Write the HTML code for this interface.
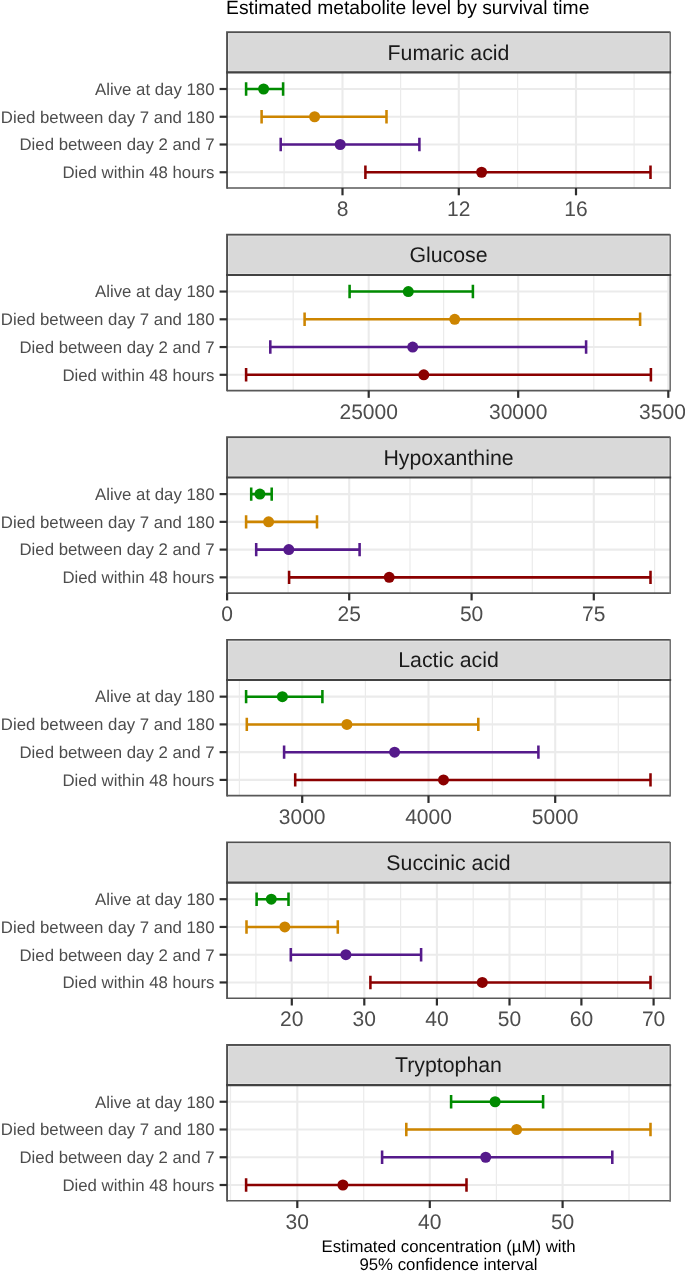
<!DOCTYPE html>
<html><head><meta charset="utf-8"><style>
html,body{margin:0;padding:0;background:#fff;}
body{width:685px;height:1272px;overflow:hidden;}
svg{display:block;will-change:transform;text-rendering:geometricPrecision;font-family:"Liberation Sans",sans-serif;}
</style></head><body>
<svg width="685" height="1272" viewBox="0 0 685 1272">
<rect width="685" height="1272" fill="#fff"/>
<text x="226.1" y="14.2" font-size="19.3" fill="#000">Estimated metabolite level by survival time</text>
<line x1="284.1" y1="72.4" x2="284.1" y2="188" stroke="#EBEBEB" stroke-width="1.2"/>
<line x1="400.6" y1="72.4" x2="400.6" y2="188" stroke="#EBEBEB" stroke-width="1.2"/>
<line x1="517.6" y1="72.4" x2="517.6" y2="188" stroke="#EBEBEB" stroke-width="1.2"/>
<line x1="634.1" y1="72.4" x2="634.1" y2="188" stroke="#EBEBEB" stroke-width="1.2"/>
<line x1="342.5" y1="72.4" x2="342.5" y2="188" stroke="#EBEBEB" stroke-width="2.1"/>
<line x1="458.8" y1="72.4" x2="458.8" y2="188" stroke="#EBEBEB" stroke-width="2.1"/>
<line x1="576" y1="72.4" x2="576" y2="188" stroke="#EBEBEB" stroke-width="2.1"/>
<line x1="227.05" y1="89" x2="670.2" y2="89" stroke="#EBEBEB" stroke-width="2.1"/>
<line x1="227.05" y1="116.75" x2="670.2" y2="116.75" stroke="#EBEBEB" stroke-width="2.1"/>
<line x1="227.05" y1="144.5" x2="670.2" y2="144.5" stroke="#EBEBEB" stroke-width="2.1"/>
<line x1="227.05" y1="172.25" x2="670.2" y2="172.25" stroke="#EBEBEB" stroke-width="2.1"/>
<path d="M246.1 89H283.1M246.1 82.3V95.7M283.1 82.3V95.7" stroke="#008B00" stroke-width="2.55" fill="none"/>
<circle cx="263.6" cy="89" r="5.5" fill="#008B00"/>
<path d="M261.6 116.75H386.5M261.6 110.05V123.45M386.5 110.05V123.45" stroke="#CD8500" stroke-width="2.55" fill="none"/>
<circle cx="314.6" cy="116.75" r="5.5" fill="#CD8500"/>
<path d="M280.7 144.5H419.4M280.7 137.8V151.2M419.4 137.8V151.2" stroke="#551A8B" stroke-width="2.55" fill="none"/>
<circle cx="340.2" cy="144.5" r="5.5" fill="#551A8B"/>
<path d="M365.4 172.25H650.5M365.4 165.55V178.95M650.5 165.55V178.95" stroke="#8B0000" stroke-width="2.55" fill="none"/>
<circle cx="481.6" cy="172.25" r="5.5" fill="#8B0000"/>
<rect x="227.05" y="32.2" width="443.15" height="40.2" fill="#D9D9D9"/>
<path d="M227.05 72.4V32.2H670.2" stroke="#505050" stroke-width="1.9" fill="none"/>
<path d="M670.2 31.7V72.4" stroke="#727272" stroke-width="1.6" fill="none"/>
<rect x="228.55" y="33.7" width="440.15" height="37.2" fill="none" stroke="#E2E2E2" stroke-width="1"/>
<text x="448.5" y="59.5" text-anchor="middle" font-size="21.3" fill="#1A1A1A">Fumaric acid</text>
<path d="M227.05 72.4V188.8" stroke="#555555" stroke-width="1.9" fill="none"/>
<path d="M227.05 188H670.2" stroke="#585858" stroke-width="1.65" fill="none"/>
<path d="M670.2 72.4V188.95" stroke="#727272" stroke-width="1.6" fill="none"/>
<line x1="226.1" y1="72.4" x2="671.15" y2="72.4" stroke="#424242" stroke-width="2.1"/>
<line x1="219.6" y1="89" x2="227.05" y2="89" stroke="#2E2E2E" stroke-width="2.2"/>
<text x="214.5" y="94.8" text-anchor="end" font-size="16.8" fill="#4D4D4D">Alive at day 180</text>
<line x1="219.6" y1="116.75" x2="227.05" y2="116.75" stroke="#2E2E2E" stroke-width="2.2"/>
<text x="214.5" y="122.55" text-anchor="end" font-size="16.8" fill="#4D4D4D">Died between day 7 and 180</text>
<line x1="219.6" y1="144.5" x2="227.05" y2="144.5" stroke="#2E2E2E" stroke-width="2.2"/>
<text x="214.5" y="150.3" text-anchor="end" font-size="16.8" fill="#4D4D4D">Died between day 2 and 7</text>
<line x1="219.6" y1="172.25" x2="227.05" y2="172.25" stroke="#2E2E2E" stroke-width="2.2"/>
<text x="214.5" y="178.05" text-anchor="end" font-size="16.8" fill="#4D4D4D">Died within 48 hours</text>
<line x1="342.5" y1="188" x2="342.5" y2="195.3" stroke="#2E2E2E" stroke-width="2.2"/>
<text x="342.5" y="216" text-anchor="middle" font-size="21.0" fill="#4D4D4D">8</text>
<line x1="458.8" y1="188" x2="458.8" y2="195.3" stroke="#2E2E2E" stroke-width="2.2"/>
<text x="458.8" y="216" text-anchor="middle" font-size="21.0" fill="#4D4D4D">12</text>
<line x1="576" y1="188" x2="576" y2="195.3" stroke="#2E2E2E" stroke-width="2.2"/>
<text x="576" y="216" text-anchor="middle" font-size="21.0" fill="#4D4D4D">16</text>
<line x1="293.2" y1="274.95" x2="293.2" y2="390.55" stroke="#EBEBEB" stroke-width="1.2"/>
<line x1="443.6" y1="274.95" x2="443.6" y2="390.55" stroke="#EBEBEB" stroke-width="1.2"/>
<line x1="593.8" y1="274.95" x2="593.8" y2="390.55" stroke="#EBEBEB" stroke-width="1.2"/>
<line x1="368.7" y1="274.95" x2="368.7" y2="390.55" stroke="#EBEBEB" stroke-width="2.1"/>
<line x1="518.2" y1="274.95" x2="518.2" y2="390.55" stroke="#EBEBEB" stroke-width="2.1"/>
<line x1="668.3" y1="274.95" x2="668.3" y2="390.55" stroke="#EBEBEB" stroke-width="2.1"/>
<line x1="227.05" y1="291.55" x2="670.2" y2="291.55" stroke="#EBEBEB" stroke-width="2.1"/>
<line x1="227.05" y1="319.3" x2="670.2" y2="319.3" stroke="#EBEBEB" stroke-width="2.1"/>
<line x1="227.05" y1="347.05" x2="670.2" y2="347.05" stroke="#EBEBEB" stroke-width="2.1"/>
<line x1="227.05" y1="374.8" x2="670.2" y2="374.8" stroke="#EBEBEB" stroke-width="2.1"/>
<path d="M349.6 291.55H472.9M349.6 284.85V298.25M472.9 284.85V298.25" stroke="#008B00" stroke-width="2.55" fill="none"/>
<circle cx="408.3" cy="291.55" r="5.5" fill="#008B00"/>
<path d="M304.6 319.3H640.1M304.6 312.6V326M640.1 312.6V326" stroke="#CD8500" stroke-width="2.55" fill="none"/>
<circle cx="454.7" cy="319.3" r="5.5" fill="#CD8500"/>
<path d="M270.3 347.05H586.1M270.3 340.35V353.75M586.1 340.35V353.75" stroke="#551A8B" stroke-width="2.55" fill="none"/>
<circle cx="412.7" cy="347.05" r="5.5" fill="#551A8B"/>
<path d="M246.1 374.8H650.9M246.1 368.1V381.5M650.9 368.1V381.5" stroke="#8B0000" stroke-width="2.55" fill="none"/>
<circle cx="423.8" cy="374.8" r="5.5" fill="#8B0000"/>
<rect x="227.05" y="234.75" width="443.15" height="40.2" fill="#D9D9D9"/>
<path d="M227.05 274.95V234.75H670.2" stroke="#505050" stroke-width="1.9" fill="none"/>
<path d="M670.2 234.25V274.95" stroke="#727272" stroke-width="1.6" fill="none"/>
<rect x="228.55" y="236.25" width="440.15" height="37.2" fill="none" stroke="#E2E2E2" stroke-width="1"/>
<text x="448.5" y="262.05" text-anchor="middle" font-size="21.3" fill="#1A1A1A">Glucose</text>
<path d="M227.05 274.95V391.35" stroke="#555555" stroke-width="1.9" fill="none"/>
<path d="M227.05 390.55H670.2" stroke="#585858" stroke-width="1.65" fill="none"/>
<path d="M670.2 274.95V391.5" stroke="#727272" stroke-width="1.6" fill="none"/>
<line x1="226.1" y1="274.95" x2="671.15" y2="274.95" stroke="#424242" stroke-width="2.1"/>
<line x1="219.6" y1="291.55" x2="227.05" y2="291.55" stroke="#2E2E2E" stroke-width="2.2"/>
<text x="214.5" y="297.35" text-anchor="end" font-size="16.8" fill="#4D4D4D">Alive at day 180</text>
<line x1="219.6" y1="319.3" x2="227.05" y2="319.3" stroke="#2E2E2E" stroke-width="2.2"/>
<text x="214.5" y="325.1" text-anchor="end" font-size="16.8" fill="#4D4D4D">Died between day 7 and 180</text>
<line x1="219.6" y1="347.05" x2="227.05" y2="347.05" stroke="#2E2E2E" stroke-width="2.2"/>
<text x="214.5" y="352.85" text-anchor="end" font-size="16.8" fill="#4D4D4D">Died between day 2 and 7</text>
<line x1="219.6" y1="374.8" x2="227.05" y2="374.8" stroke="#2E2E2E" stroke-width="2.2"/>
<text x="214.5" y="380.6" text-anchor="end" font-size="16.8" fill="#4D4D4D">Died within 48 hours</text>
<line x1="368.7" y1="390.55" x2="368.7" y2="397.85" stroke="#2E2E2E" stroke-width="2.2"/>
<text x="368.7" y="418.55" text-anchor="middle" font-size="21.0" fill="#4D4D4D">25000</text>
<line x1="518.2" y1="390.55" x2="518.2" y2="397.85" stroke="#2E2E2E" stroke-width="2.2"/>
<text x="518.2" y="418.55" text-anchor="middle" font-size="21.0" fill="#4D4D4D">30000</text>
<line x1="668.3" y1="390.55" x2="668.3" y2="397.85" stroke="#2E2E2E" stroke-width="2.2"/>
<text x="668.3" y="418.55" text-anchor="middle" font-size="21.0" fill="#4D4D4D">35000</text>
<line x1="288.1" y1="477.5" x2="288.1" y2="593.1" stroke="#EBEBEB" stroke-width="1.2"/>
<line x1="410" y1="477.5" x2="410" y2="593.1" stroke="#EBEBEB" stroke-width="1.2"/>
<line x1="532.3" y1="477.5" x2="532.3" y2="593.1" stroke="#EBEBEB" stroke-width="1.2"/>
<line x1="654.6" y1="477.5" x2="654.6" y2="593.1" stroke="#EBEBEB" stroke-width="1.2"/>
<line x1="227.1" y1="477.5" x2="227.1" y2="593.1" stroke="#EBEBEB" stroke-width="2.1"/>
<line x1="349.2" y1="477.5" x2="349.2" y2="593.1" stroke="#EBEBEB" stroke-width="2.1"/>
<line x1="471.6" y1="477.5" x2="471.6" y2="593.1" stroke="#EBEBEB" stroke-width="2.1"/>
<line x1="593.8" y1="477.5" x2="593.8" y2="593.1" stroke="#EBEBEB" stroke-width="2.1"/>
<line x1="227.05" y1="494.1" x2="670.2" y2="494.1" stroke="#EBEBEB" stroke-width="2.1"/>
<line x1="227.05" y1="521.85" x2="670.2" y2="521.85" stroke="#EBEBEB" stroke-width="2.1"/>
<line x1="227.05" y1="549.6" x2="670.2" y2="549.6" stroke="#EBEBEB" stroke-width="2.1"/>
<line x1="227.05" y1="577.35" x2="670.2" y2="577.35" stroke="#EBEBEB" stroke-width="2.1"/>
<path d="M251.2 494.1H271.7M251.2 487.4V500.8M271.7 487.4V500.8" stroke="#008B00" stroke-width="2.55" fill="none"/>
<circle cx="259.9" cy="494.1" r="5.5" fill="#008B00"/>
<path d="M246.1 521.85H317M246.1 515.15V528.55M317 515.15V528.55" stroke="#CD8500" stroke-width="2.55" fill="none"/>
<circle cx="268.6" cy="521.85" r="5.5" fill="#CD8500"/>
<path d="M256.2 549.6H359.6M256.2 542.9V556.3M359.6 542.9V556.3" stroke="#551A8B" stroke-width="2.55" fill="none"/>
<circle cx="288.8" cy="549.6" r="5.5" fill="#551A8B"/>
<path d="M289.1 577.35H650.5M289.1 570.65V584.05M650.5 570.65V584.05" stroke="#8B0000" stroke-width="2.55" fill="none"/>
<circle cx="389.2" cy="577.35" r="5.5" fill="#8B0000"/>
<rect x="227.05" y="437.3" width="443.15" height="40.2" fill="#D9D9D9"/>
<path d="M227.05 477.5V437.3H670.2" stroke="#505050" stroke-width="1.9" fill="none"/>
<path d="M670.2 436.8V477.5" stroke="#727272" stroke-width="1.6" fill="none"/>
<rect x="228.55" y="438.8" width="440.15" height="37.2" fill="none" stroke="#E2E2E2" stroke-width="1"/>
<text x="448.5" y="464.6" text-anchor="middle" font-size="21.3" fill="#1A1A1A">Hypoxanthine</text>
<path d="M227.05 477.5V593.9" stroke="#555555" stroke-width="1.9" fill="none"/>
<path d="M227.05 593.1H670.2" stroke="#585858" stroke-width="1.65" fill="none"/>
<path d="M670.2 477.5V594.05" stroke="#727272" stroke-width="1.6" fill="none"/>
<line x1="226.1" y1="477.5" x2="671.15" y2="477.5" stroke="#424242" stroke-width="2.1"/>
<line x1="219.6" y1="494.1" x2="227.05" y2="494.1" stroke="#2E2E2E" stroke-width="2.2"/>
<text x="214.5" y="499.9" text-anchor="end" font-size="16.8" fill="#4D4D4D">Alive at day 180</text>
<line x1="219.6" y1="521.85" x2="227.05" y2="521.85" stroke="#2E2E2E" stroke-width="2.2"/>
<text x="214.5" y="527.65" text-anchor="end" font-size="16.8" fill="#4D4D4D">Died between day 7 and 180</text>
<line x1="219.6" y1="549.6" x2="227.05" y2="549.6" stroke="#2E2E2E" stroke-width="2.2"/>
<text x="214.5" y="555.4" text-anchor="end" font-size="16.8" fill="#4D4D4D">Died between day 2 and 7</text>
<line x1="219.6" y1="577.35" x2="227.05" y2="577.35" stroke="#2E2E2E" stroke-width="2.2"/>
<text x="214.5" y="583.15" text-anchor="end" font-size="16.8" fill="#4D4D4D">Died within 48 hours</text>
<line x1="227.1" y1="593.1" x2="227.1" y2="600.4" stroke="#2E2E2E" stroke-width="2.2"/>
<text x="227.1" y="621.1" text-anchor="middle" font-size="21.0" fill="#4D4D4D">0</text>
<line x1="349.2" y1="593.1" x2="349.2" y2="600.4" stroke="#2E2E2E" stroke-width="2.2"/>
<text x="349.2" y="621.1" text-anchor="middle" font-size="21.0" fill="#4D4D4D">25</text>
<line x1="471.6" y1="593.1" x2="471.6" y2="600.4" stroke="#2E2E2E" stroke-width="2.2"/>
<text x="471.6" y="621.1" text-anchor="middle" font-size="21.0" fill="#4D4D4D">50</text>
<line x1="593.8" y1="593.1" x2="593.8" y2="600.4" stroke="#2E2E2E" stroke-width="2.2"/>
<text x="593.8" y="621.1" text-anchor="middle" font-size="21.0" fill="#4D4D4D">75</text>
<line x1="239.4" y1="680.05" x2="239.4" y2="795.65" stroke="#EBEBEB" stroke-width="1.2"/>
<line x1="365.4" y1="680.05" x2="365.4" y2="795.65" stroke="#EBEBEB" stroke-width="1.2"/>
<line x1="492.4" y1="680.05" x2="492.4" y2="795.65" stroke="#EBEBEB" stroke-width="1.2"/>
<line x1="618.3" y1="680.05" x2="618.3" y2="795.65" stroke="#EBEBEB" stroke-width="1.2"/>
<line x1="302.2" y1="680.05" x2="302.2" y2="795.65" stroke="#EBEBEB" stroke-width="2.1"/>
<line x1="428.5" y1="680.05" x2="428.5" y2="795.65" stroke="#EBEBEB" stroke-width="2.1"/>
<line x1="555.2" y1="680.05" x2="555.2" y2="795.65" stroke="#EBEBEB" stroke-width="2.1"/>
<line x1="227.05" y1="696.65" x2="670.2" y2="696.65" stroke="#EBEBEB" stroke-width="2.1"/>
<line x1="227.05" y1="724.4" x2="670.2" y2="724.4" stroke="#EBEBEB" stroke-width="2.1"/>
<line x1="227.05" y1="752.15" x2="670.2" y2="752.15" stroke="#EBEBEB" stroke-width="2.1"/>
<line x1="227.05" y1="779.9" x2="670.2" y2="779.9" stroke="#EBEBEB" stroke-width="2.1"/>
<path d="M246.1 696.65H322.4M246.1 689.95V703.35M322.4 689.95V703.35" stroke="#008B00" stroke-width="2.55" fill="none"/>
<circle cx="282.4" cy="696.65" r="5.5" fill="#008B00"/>
<path d="M246.8 724.4H478.3M246.8 717.7V731.1M478.3 717.7V731.1" stroke="#CD8500" stroke-width="2.55" fill="none"/>
<circle cx="346.9" cy="724.4" r="5.5" fill="#CD8500"/>
<path d="M284.1 752.15H538.4M284.1 745.45V758.85M538.4 745.45V758.85" stroke="#551A8B" stroke-width="2.55" fill="none"/>
<circle cx="394.6" cy="752.15" r="5.5" fill="#551A8B"/>
<path d="M295.2 779.9H650.5M295.2 773.2V786.6M650.5 773.2V786.6" stroke="#8B0000" stroke-width="2.55" fill="none"/>
<circle cx="443.5" cy="779.9" r="5.5" fill="#8B0000"/>
<rect x="227.05" y="639.85" width="443.15" height="40.2" fill="#D9D9D9"/>
<path d="M227.05 680.05V639.85H670.2" stroke="#505050" stroke-width="1.9" fill="none"/>
<path d="M670.2 639.35V680.05" stroke="#727272" stroke-width="1.6" fill="none"/>
<rect x="228.55" y="641.35" width="440.15" height="37.2" fill="none" stroke="#E2E2E2" stroke-width="1"/>
<text x="448.5" y="667.15" text-anchor="middle" font-size="21.3" fill="#1A1A1A">Lactic acid</text>
<path d="M227.05 680.05V796.45" stroke="#555555" stroke-width="1.9" fill="none"/>
<path d="M227.05 795.65H670.2" stroke="#585858" stroke-width="1.65" fill="none"/>
<path d="M670.2 680.05V796.6" stroke="#727272" stroke-width="1.6" fill="none"/>
<line x1="226.1" y1="680.05" x2="671.15" y2="680.05" stroke="#424242" stroke-width="2.1"/>
<line x1="219.6" y1="696.65" x2="227.05" y2="696.65" stroke="#2E2E2E" stroke-width="2.2"/>
<text x="214.5" y="702.45" text-anchor="end" font-size="16.8" fill="#4D4D4D">Alive at day 180</text>
<line x1="219.6" y1="724.4" x2="227.05" y2="724.4" stroke="#2E2E2E" stroke-width="2.2"/>
<text x="214.5" y="730.2" text-anchor="end" font-size="16.8" fill="#4D4D4D">Died between day 7 and 180</text>
<line x1="219.6" y1="752.15" x2="227.05" y2="752.15" stroke="#2E2E2E" stroke-width="2.2"/>
<text x="214.5" y="757.95" text-anchor="end" font-size="16.8" fill="#4D4D4D">Died between day 2 and 7</text>
<line x1="219.6" y1="779.9" x2="227.05" y2="779.9" stroke="#2E2E2E" stroke-width="2.2"/>
<text x="214.5" y="785.7" text-anchor="end" font-size="16.8" fill="#4D4D4D">Died within 48 hours</text>
<line x1="302.2" y1="795.65" x2="302.2" y2="802.95" stroke="#2E2E2E" stroke-width="2.2"/>
<text x="302.2" y="823.65" text-anchor="middle" font-size="21.0" fill="#4D4D4D">3000</text>
<line x1="428.5" y1="795.65" x2="428.5" y2="802.95" stroke="#2E2E2E" stroke-width="2.2"/>
<text x="428.5" y="823.65" text-anchor="middle" font-size="21.0" fill="#4D4D4D">4000</text>
<line x1="555.2" y1="795.65" x2="555.2" y2="802.95" stroke="#2E2E2E" stroke-width="2.2"/>
<text x="555.2" y="823.65" text-anchor="middle" font-size="21.0" fill="#4D4D4D">5000</text>
<line x1="255.9" y1="882.6" x2="255.9" y2="998.2" stroke="#EBEBEB" stroke-width="1.2"/>
<line x1="328.1" y1="882.6" x2="328.1" y2="998.2" stroke="#EBEBEB" stroke-width="1.2"/>
<line x1="400.6" y1="882.6" x2="400.6" y2="998.2" stroke="#EBEBEB" stroke-width="1.2"/>
<line x1="473.2" y1="882.6" x2="473.2" y2="998.2" stroke="#EBEBEB" stroke-width="1.2"/>
<line x1="545.4" y1="882.6" x2="545.4" y2="998.2" stroke="#EBEBEB" stroke-width="1.2"/>
<line x1="617.6" y1="882.6" x2="617.6" y2="998.2" stroke="#EBEBEB" stroke-width="1.2"/>
<line x1="291.8" y1="882.6" x2="291.8" y2="998.2" stroke="#EBEBEB" stroke-width="2.1"/>
<line x1="364.3" y1="882.6" x2="364.3" y2="998.2" stroke="#EBEBEB" stroke-width="2.1"/>
<line x1="436.9" y1="882.6" x2="436.9" y2="998.2" stroke="#EBEBEB" stroke-width="2.1"/>
<line x1="509.5" y1="882.6" x2="509.5" y2="998.2" stroke="#EBEBEB" stroke-width="2.1"/>
<line x1="581.4" y1="882.6" x2="581.4" y2="998.2" stroke="#EBEBEB" stroke-width="2.1"/>
<line x1="653.6" y1="882.6" x2="653.6" y2="998.2" stroke="#EBEBEB" stroke-width="2.1"/>
<line x1="227.05" y1="899.2" x2="670.2" y2="899.2" stroke="#EBEBEB" stroke-width="2.1"/>
<line x1="227.05" y1="926.95" x2="670.2" y2="926.95" stroke="#EBEBEB" stroke-width="2.1"/>
<line x1="227.05" y1="954.7" x2="670.2" y2="954.7" stroke="#EBEBEB" stroke-width="2.1"/>
<line x1="227.05" y1="982.45" x2="670.2" y2="982.45" stroke="#EBEBEB" stroke-width="2.1"/>
<path d="M256.6 899.2H288.5M256.6 892.5V905.9M288.5 892.5V905.9" stroke="#008B00" stroke-width="2.55" fill="none"/>
<circle cx="271.3" cy="899.2" r="5.5" fill="#008B00"/>
<path d="M246.5 926.95H337.8M246.5 920.25V933.65M337.8 920.25V933.65" stroke="#CD8500" stroke-width="2.55" fill="none"/>
<circle cx="284.8" cy="926.95" r="5.5" fill="#CD8500"/>
<path d="M290.8 954.7H421.1M290.8 948V961.4M421.1 948V961.4" stroke="#551A8B" stroke-width="2.55" fill="none"/>
<circle cx="345.9" cy="954.7" r="5.5" fill="#551A8B"/>
<path d="M370.4 982.45H650.5M370.4 975.75V989.15M650.5 975.75V989.15" stroke="#8B0000" stroke-width="2.55" fill="none"/>
<circle cx="482.3" cy="982.45" r="5.5" fill="#8B0000"/>
<rect x="227.05" y="842.4" width="443.15" height="40.2" fill="#D9D9D9"/>
<path d="M227.05 882.6V842.4H670.2" stroke="#505050" stroke-width="1.9" fill="none"/>
<path d="M670.2 841.9V882.6" stroke="#727272" stroke-width="1.6" fill="none"/>
<rect x="228.55" y="843.9" width="440.15" height="37.2" fill="none" stroke="#E2E2E2" stroke-width="1"/>
<text x="448.5" y="869.7" text-anchor="middle" font-size="21.3" fill="#1A1A1A">Succinic acid</text>
<path d="M227.05 882.6V999" stroke="#555555" stroke-width="1.9" fill="none"/>
<path d="M227.05 998.2H670.2" stroke="#585858" stroke-width="1.65" fill="none"/>
<path d="M670.2 882.6V999.15" stroke="#727272" stroke-width="1.6" fill="none"/>
<line x1="226.1" y1="882.6" x2="671.15" y2="882.6" stroke="#424242" stroke-width="2.1"/>
<line x1="219.6" y1="899.2" x2="227.05" y2="899.2" stroke="#2E2E2E" stroke-width="2.2"/>
<text x="214.5" y="905" text-anchor="end" font-size="16.8" fill="#4D4D4D">Alive at day 180</text>
<line x1="219.6" y1="926.95" x2="227.05" y2="926.95" stroke="#2E2E2E" stroke-width="2.2"/>
<text x="214.5" y="932.75" text-anchor="end" font-size="16.8" fill="#4D4D4D">Died between day 7 and 180</text>
<line x1="219.6" y1="954.7" x2="227.05" y2="954.7" stroke="#2E2E2E" stroke-width="2.2"/>
<text x="214.5" y="960.5" text-anchor="end" font-size="16.8" fill="#4D4D4D">Died between day 2 and 7</text>
<line x1="219.6" y1="982.45" x2="227.05" y2="982.45" stroke="#2E2E2E" stroke-width="2.2"/>
<text x="214.5" y="988.25" text-anchor="end" font-size="16.8" fill="#4D4D4D">Died within 48 hours</text>
<line x1="291.8" y1="998.2" x2="291.8" y2="1005.5" stroke="#2E2E2E" stroke-width="2.2"/>
<text x="291.8" y="1026.2" text-anchor="middle" font-size="21.0" fill="#4D4D4D">20</text>
<line x1="364.3" y1="998.2" x2="364.3" y2="1005.5" stroke="#2E2E2E" stroke-width="2.2"/>
<text x="364.3" y="1026.2" text-anchor="middle" font-size="21.0" fill="#4D4D4D">30</text>
<line x1="436.9" y1="998.2" x2="436.9" y2="1005.5" stroke="#2E2E2E" stroke-width="2.2"/>
<text x="436.9" y="1026.2" text-anchor="middle" font-size="21.0" fill="#4D4D4D">40</text>
<line x1="509.5" y1="998.2" x2="509.5" y2="1005.5" stroke="#2E2E2E" stroke-width="2.2"/>
<text x="509.5" y="1026.2" text-anchor="middle" font-size="21.0" fill="#4D4D4D">50</text>
<line x1="581.4" y1="998.2" x2="581.4" y2="1005.5" stroke="#2E2E2E" stroke-width="2.2"/>
<text x="581.4" y="1026.2" text-anchor="middle" font-size="21.0" fill="#4D4D4D">60</text>
<line x1="653.6" y1="998.2" x2="653.6" y2="1005.5" stroke="#2E2E2E" stroke-width="2.2"/>
<text x="653.6" y="1026.2" text-anchor="middle" font-size="21.0" fill="#4D4D4D">70</text>
<line x1="230.5" y1="1085.15" x2="230.5" y2="1200.75" stroke="#EBEBEB" stroke-width="1.2"/>
<line x1="363.7" y1="1085.15" x2="363.7" y2="1200.75" stroke="#EBEBEB" stroke-width="1.2"/>
<line x1="496.4" y1="1085.15" x2="496.4" y2="1200.75" stroke="#EBEBEB" stroke-width="1.2"/>
<line x1="629" y1="1085.15" x2="629" y2="1200.75" stroke="#EBEBEB" stroke-width="1.2"/>
<line x1="297.3" y1="1085.15" x2="297.3" y2="1200.75" stroke="#EBEBEB" stroke-width="2.1"/>
<line x1="429.8" y1="1085.15" x2="429.8" y2="1200.75" stroke="#EBEBEB" stroke-width="2.1"/>
<line x1="562.6" y1="1085.15" x2="562.6" y2="1200.75" stroke="#EBEBEB" stroke-width="2.1"/>
<line x1="227.05" y1="1101.75" x2="670.2" y2="1101.75" stroke="#EBEBEB" stroke-width="2.1"/>
<line x1="227.05" y1="1129.5" x2="670.2" y2="1129.5" stroke="#EBEBEB" stroke-width="2.1"/>
<line x1="227.05" y1="1157.25" x2="670.2" y2="1157.25" stroke="#EBEBEB" stroke-width="2.1"/>
<line x1="227.05" y1="1185" x2="670.2" y2="1185" stroke="#EBEBEB" stroke-width="2.1"/>
<path d="M451.1 1101.75H543.1M451.1 1095.05V1108.45M543.1 1095.05V1108.45" stroke="#008B00" stroke-width="2.55" fill="none"/>
<circle cx="495.1" cy="1101.75" r="5.5" fill="#008B00"/>
<path d="M406.3 1129.5H650.5M406.3 1122.8V1136.2M650.5 1122.8V1136.2" stroke="#CD8500" stroke-width="2.55" fill="none"/>
<circle cx="516.6" cy="1129.5" r="5.5" fill="#CD8500"/>
<path d="M382.1 1157.25H612.3M382.1 1150.55V1163.95M612.3 1150.55V1163.95" stroke="#551A8B" stroke-width="2.55" fill="none"/>
<circle cx="485.7" cy="1157.25" r="5.5" fill="#551A8B"/>
<path d="M246.1 1185H466.5M246.1 1178.3V1191.7M466.5 1178.3V1191.7" stroke="#8B0000" stroke-width="2.55" fill="none"/>
<circle cx="342.9" cy="1185" r="5.5" fill="#8B0000"/>
<rect x="227.05" y="1044.95" width="443.15" height="40.2" fill="#D9D9D9"/>
<path d="M227.05 1085.15V1044.95H670.2" stroke="#505050" stroke-width="1.9" fill="none"/>
<path d="M670.2 1044.45V1085.15" stroke="#727272" stroke-width="1.6" fill="none"/>
<rect x="228.55" y="1046.45" width="440.15" height="37.2" fill="none" stroke="#E2E2E2" stroke-width="1"/>
<text x="448.5" y="1072.25" text-anchor="middle" font-size="21.3" fill="#1A1A1A">Tryptophan</text>
<path d="M227.05 1085.15V1201.55" stroke="#555555" stroke-width="1.9" fill="none"/>
<path d="M227.05 1200.75H670.2" stroke="#585858" stroke-width="1.65" fill="none"/>
<path d="M670.2 1085.15V1201.7" stroke="#727272" stroke-width="1.6" fill="none"/>
<line x1="226.1" y1="1085.15" x2="671.15" y2="1085.15" stroke="#424242" stroke-width="2.1"/>
<line x1="219.6" y1="1101.75" x2="227.05" y2="1101.75" stroke="#2E2E2E" stroke-width="2.2"/>
<text x="214.5" y="1107.55" text-anchor="end" font-size="16.8" fill="#4D4D4D">Alive at day 180</text>
<line x1="219.6" y1="1129.5" x2="227.05" y2="1129.5" stroke="#2E2E2E" stroke-width="2.2"/>
<text x="214.5" y="1135.3" text-anchor="end" font-size="16.8" fill="#4D4D4D">Died between day 7 and 180</text>
<line x1="219.6" y1="1157.25" x2="227.05" y2="1157.25" stroke="#2E2E2E" stroke-width="2.2"/>
<text x="214.5" y="1163.05" text-anchor="end" font-size="16.8" fill="#4D4D4D">Died between day 2 and 7</text>
<line x1="219.6" y1="1185" x2="227.05" y2="1185" stroke="#2E2E2E" stroke-width="2.2"/>
<text x="214.5" y="1190.8" text-anchor="end" font-size="16.8" fill="#4D4D4D">Died within 48 hours</text>
<line x1="297.3" y1="1200.75" x2="297.3" y2="1208.05" stroke="#2E2E2E" stroke-width="2.2"/>
<text x="297.3" y="1228.75" text-anchor="middle" font-size="21.0" fill="#4D4D4D">30</text>
<line x1="429.8" y1="1200.75" x2="429.8" y2="1208.05" stroke="#2E2E2E" stroke-width="2.2"/>
<text x="429.8" y="1228.75" text-anchor="middle" font-size="21.0" fill="#4D4D4D">40</text>
<line x1="562.6" y1="1200.75" x2="562.6" y2="1208.05" stroke="#2E2E2E" stroke-width="2.2"/>
<text x="562.6" y="1228.75" text-anchor="middle" font-size="21.0" fill="#4D4D4D">50</text>
<text x="448.5" y="1251.7" text-anchor="middle" font-size="16.8" fill="#000">Estimated concentration (µM) with</text>
<text x="448.5" y="1269.7" text-anchor="middle" font-size="16.8" fill="#000">95% confidence interval</text>
</svg>
</body></html>
